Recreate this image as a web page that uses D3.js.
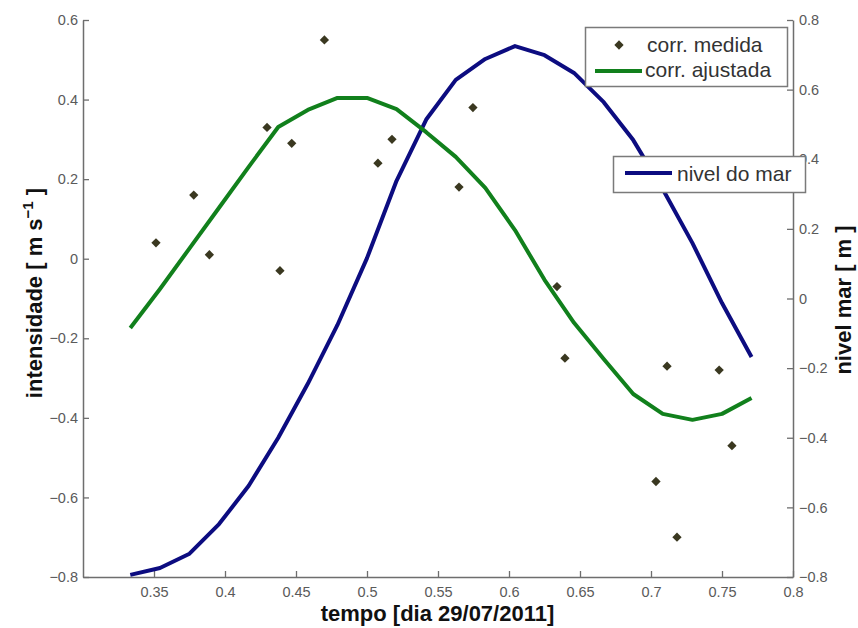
<!DOCTYPE html>
<html>
<head>
<meta charset="utf-8">
<script src="https://cdn.jsdelivr.net/npm/d3@7/dist/d3.min.js"></script>
<style>
  html, body { margin: 0; padding: 0; background: #fff; }
  svg { display: block; font-family: "Liberation Sans", Arial, Helvetica, sans-serif; }
</style>
</head>
<body>
<svg id="chart" width="858" height="628"></svg>
<script>
// Measured current (corr. medida): time in days, intensity in m/s
const medidaTempo = [0.3514, 0.378, 0.389, 0.4296, 0.4387, 0.447, 0.470, 0.5077, 0.5176,
                     0.5648, 0.5746, 0.6338, 0.6394, 0.7035, 0.7113, 0.7183, 0.748, 0.757];
const medidaValor = [0.04, 0.16, 0.01, 0.33, -0.03, 0.29, 0.55, 0.24, 0.30,
                     0.18, 0.38, -0.07, -0.25, -0.56, -0.27, -0.70, -0.28, -0.47];

// Half-hourly sample times (08:00 to 18:30)
const tempo = [0.3333, 0.3542, 0.3750, 0.3958, 0.4167, 0.4375, 0.4583, 0.4792, 0.5000, 0.5208, 0.5417,
               0.5625, 0.5833, 0.6042, 0.6250, 0.6458, 0.6667, 0.6875, 0.7083, 0.7292, 0.7500, 0.7708];

// Fitted current (corr. ajustada), m/s
const ajustada = [-0.174, -0.076, 0.026, 0.128, 0.231, 0.331, 0.374, 0.404, 0.404, 0.376, 0.318,
                  0.256, 0.178, 0.072, -0.053, -0.161, -0.252, -0.340, -0.390, -0.405, -0.390, -0.350];

// Sea level (nivel do mar), m
const nivelMar = [-0.794, -0.774, -0.733, -0.648, -0.538, -0.400, -0.245, -0.076, 0.116, 0.338, 0.514,
                  0.628, 0.688, 0.725, 0.699, 0.648, 0.564, 0.455, 0.314, 0.159, -0.013, -0.168];

// Tick values
const xTicks = [0.35, 0.4, 0.45, 0.5, 0.55, 0.6, 0.65, 0.7, 0.75, 0.8];
const yLeftTicks = [-0.8, -0.6, -0.4, -0.2, 0, 0.2, 0.4, 0.6];
const yRightTicks = [-0.8, -0.6, -0.4, -0.2, 0, 0.2, 0.4, 0.6, 0.8];

const svg = d3.select("#chart");
const L = 83, R = 793, T = 20, B = 577;

const x = d3.scaleLinear().domain([0.3, 0.8]).range([L, R]);
const yL = d3.scaleLinear().domain([-0.8, 0.6]).range([B, T]);
const yR = d3.scaleLinear().domain([-0.8, 0.8]).range([B, T]);

const fmt = v => (v === 0 ? "0" : (v < 0 ? "\u2212" : "") + String(Math.abs(Math.round(v * 100) / 100)));

const axisColor = "#6e6e6e";
const tickText = "#5a5a5a";

function styleAxis(g) {
  g.select(".domain").attr("stroke", axisColor).attr("stroke-width", 1.5);
  g.selectAll(".tick line").attr("stroke", axisColor).attr("stroke-width", 1.3);
  g.selectAll(".tick text").attr("fill", tickText).style("font-size", "14.5px")
    .style("font-family", "'Liberation Sans', Arial, sans-serif");
}

// Bottom axis
svg.append("g").attr("transform", `translate(0,${B})`)
  .call(d3.axisBottom(x).tickValues(xTicks).tickFormat(fmt).tickSizeInner(-6).tickSizeOuter(0).tickPadding(10))
  .call(styleAxis);

// Left axis
svg.append("g").attr("transform", `translate(${L},0)`)
  .call(d3.axisLeft(yL).tickValues(yLeftTicks).tickFormat(fmt).tickSizeInner(-6).tickSizeOuter(0).tickPadding(5))
  .call(styleAxis);

// Right axis
svg.append("g").attr("transform", `translate(${R},0)`)
  .call(d3.axisRight(yR).tickValues(yRightTicks).tickFormat(fmt).tickSizeInner(-6).tickSizeOuter(0).tickPadding(6))
  .call(styleAxis);

const green = "#11801c";
const navy = "#0c0c80";
const diamondColor = "#3a3820";

// Sea level line (right axis)
const lineR = d3.line().x((d, i) => x(tempo[i])).y(d => yR(d));
svg.append("path").datum(nivelMar).attr("d", lineR)
  .attr("fill", "none").attr("stroke", navy).attr("stroke-width", 4).attr("stroke-linejoin", "round");

// Fitted current line (left axis)
const lineL = d3.line().x((d, i) => x(tempo[i])).y(d => yL(d));
svg.append("path").datum(ajustada).attr("d", lineL)
  .attr("fill", "none").attr("stroke", green).attr("stroke-width", 4).attr("stroke-linejoin", "round");

// Measured points as diamonds
const diamond = d3.symbol().type(d3.symbolDiamond2).size(55);
svg.append("g").selectAll("path").data(medidaValor).join("path")
  .attr("d", diamond)
  .attr("transform", (d, i) => `translate(${x(medidaTempo[i])},${yL(d)})`)
  .attr("fill", diamondColor);

// Axis titles
svg.append("text").attr("x", 437.5).attr("y", 621).attr("text-anchor", "middle")
  .style("font-size", "22px").style("font-weight", "bold").attr("fill", "#111")
  .text("tempo [dia 29/07/2011]");

const ylab = svg.append("text").attr("transform", "translate(42,293) rotate(-90)")
  .attr("text-anchor", "middle").style("font-size", "22px").style("font-weight", "bold").attr("fill", "#111");
ylab.append("tspan").text("intensidade [ m s");
ylab.append("tspan").attr("dy", -9).style("font-size", "15px").text("\u22121");
ylab.append("tspan").attr("dy", 9).text(" ]");

svg.append("text").attr("transform", "translate(851,300) rotate(-90)")
  .attr("text-anchor", "middle").style("font-size", "22px").style("font-weight", "bold").attr("fill", "#111")
  .text("nivel mar [ m ]");

// Legend: current
const leg1 = svg.append("g");
leg1.append("rect").attr("x", 585.5).attr("y", 27.5).attr("width", 202).attr("height", 59)
  .attr("fill", "#fff").attr("stroke", "#7a7a7a").attr("stroke-width", 1.5);
leg1.append("path").attr("d", diamond).attr("transform", "translate(619,45)").attr("fill", diamondColor);
leg1.append("line").attr("x1", 595).attr("x2", 642).attr("y1", 71).attr("y2", 71)
  .attr("stroke", green).attr("stroke-width", 4);
leg1.append("text").attr("x", 647).attr("y", 52).style("font-size", "21px").attr("fill", "#333").text("corr. medida");
leg1.append("text").attr("x", 645).attr("y", 77).style("font-size", "21px").attr("fill", "#333").text("corr. ajustada");

// Legend: sea level
const leg2 = svg.append("g");
leg2.append("rect").attr("x", 613.5).attr("y", 156.5).attr("width", 192).attr("height", 36)
  .attr("fill", "#fff").attr("stroke", "#7a7a7a").attr("stroke-width", 1.5);
leg2.append("line").attr("x1", 625).attr("x2", 672).attr("y1", 173).attr("y2", 173)
  .attr("stroke", navy).attr("stroke-width", 4);
leg2.append("text").attr("x", 677).attr("y", 181).style("font-size", "21px").attr("fill", "#333").text("nivel do mar");
</script>
</body>
</html>
